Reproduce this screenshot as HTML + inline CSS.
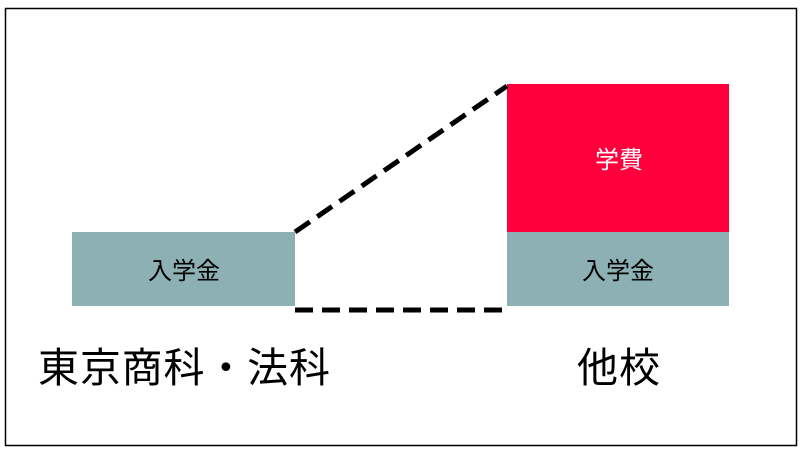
<!DOCTYPE html>
<html><head><meta charset="utf-8"><style>
body{margin:0;width:802px;height:454px;background:#fff;overflow:hidden;font-family:"Liberation Sans","Noto Sans CJK JP",sans-serif;}
</style></head><body>
<svg width="802" height="454" xmlns="http://www.w3.org/2000/svg" style="position:absolute;left:0;top:0">
<rect x="5.5" y="8.5" width="791" height="437" fill="#fff" stroke="#000" stroke-width="1.5"/>
<rect x="72" y="232" width="223" height="74" fill="#8cb0b3"/>
<rect x="507" y="84" width="222" height="148" fill="#ff003c"/>
<rect x="507" y="232" width="222" height="74" fill="#8cb0b3"/>
<line x1="295" y1="232" x2="507" y2="86" stroke="#000" stroke-width="5" stroke-dasharray="18,9"/>
<line x1="295" y1="310" x2="507" y2="310" stroke="#000" stroke-width="5" stroke-dasharray="18,9"/>
<text x="184" y="279" font-size="24" text-anchor="middle" fill="#000" font-family="Liberation Sans,Noto Sans CJK JP,sans-serif">入学金</text>
<text x="618" y="279" font-size="24" text-anchor="middle" fill="#000" font-family="Liberation Sans,Noto Sans CJK JP,sans-serif">入学金</text>
<text x="619" y="168" font-size="24" text-anchor="middle" fill="#fff" font-family="Liberation Sans,Noto Sans CJK JP,sans-serif">学費</text>
<text x="38" y="382" font-size="41" textLength="292" fill="#000" font-family="Liberation Sans,Noto Sans CJK JP,sans-serif">東京商科・法科</text>
<text x="577" y="382" font-size="41" textLength="83" fill="#000" font-family="Liberation Sans,Noto Sans CJK JP,sans-serif">他校</text>
</svg>
</body></html>
